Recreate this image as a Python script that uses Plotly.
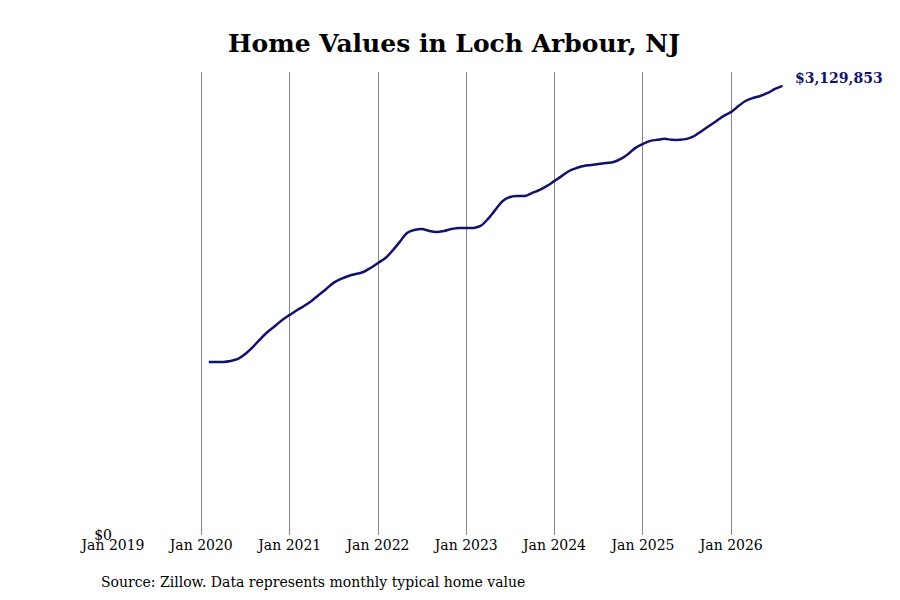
import plotly.graph_objects as go
import pandas as pd

dates = pd.date_range("2020-02-01", "2026-08-01", freq="MS")
values_k = [
    1206, 1206, 1206, 1213, 1227, 1262, 1310, 1366, 1415, 1457, 1499,
    1534, 1568, 1596, 1631, 1673, 1715, 1757, 1785, 1805, 1819, 1833, 1861,
    1896, 1931, 1980, 2043, 2105, 2126, 2133, 2119, 2112, 2119, 2133, 2140,
    2140, 2140, 2154, 2203, 2266, 2328, 2356, 2363, 2363, 2384, 2405, 2433,
    2468, 2503, 2537, 2558, 2572, 2579, 2586, 2593, 2600, 2621, 2656, 2698,
    2726, 2747, 2754, 2761, 2754, 2754, 2761, 2781, 2816, 2851, 2886, 2921,
    2949, 2991, 3025, 3046, 3060, 3081, 3109, 3129.853,
]
values = [v * 1000 for v in values_k]
tick_dates = [f"{y}-01-01" for y in range(2019, 2027)]
tick_labels = [f"Jan {y}" for y in range(2019, 2027)]

fig = go.Figure()
fig.add_trace(go.Scatter(x=dates, y=values, mode="lines",
                         line=dict(color="#12126b", width=2.5, shape="spline"),
                         hoverinfo="skip"))
fig.add_annotation(x=dates[-1], y=values[-1], text=f"${values[-1]:,.0f}",
                   showarrow=False, xanchor="left", yanchor="bottom", xshift=10, yshift=-2,
                   font=dict(family="DejaVu Serif", size=14, color="#12126b", weight="bold"))
fig.add_annotation(xref="paper", yref="paper", x=-0.021, y=-0.102, xanchor="left", yanchor="middle",
                   text="Source: Zillow. Data represents monthly typical home value",
                   showarrow=False, font=dict(family="DejaVu Serif", size=14, color="black"))
fig.update_layout(
    width=892, height=592, plot_bgcolor="white", paper_bgcolor="white",
    margin=dict(l=105, r=110, t=64, b=65), showlegend=False,
    title=dict(text="<b>Home Values in Loch Arbour, NJ</b>", x=0.5, xanchor="center",
               y=0.94, yanchor="middle",
               font=dict(family="DejaVu Serif", size=25, color="black")),
    font=dict(family="DejaVu Serif", size=14, color="black"),
)
fig.update_xaxes(range=["2019-01-01", "2026-09-01"], tickvals=tick_dates, ticktext=tick_labels,
                 showgrid=True, gridcolor="#888", gridwidth=1, showline=False, zeroline=False,
                 ticks="", tickfont=dict(size=14))
fig.update_yaxes(range=[0, 3227000], tickvals=[0], ticktext=["$0"], showgrid=False,
                 zeroline=False, showline=False, ticks="", tickfont=dict(size=14))
fig.write_html("out.html")
